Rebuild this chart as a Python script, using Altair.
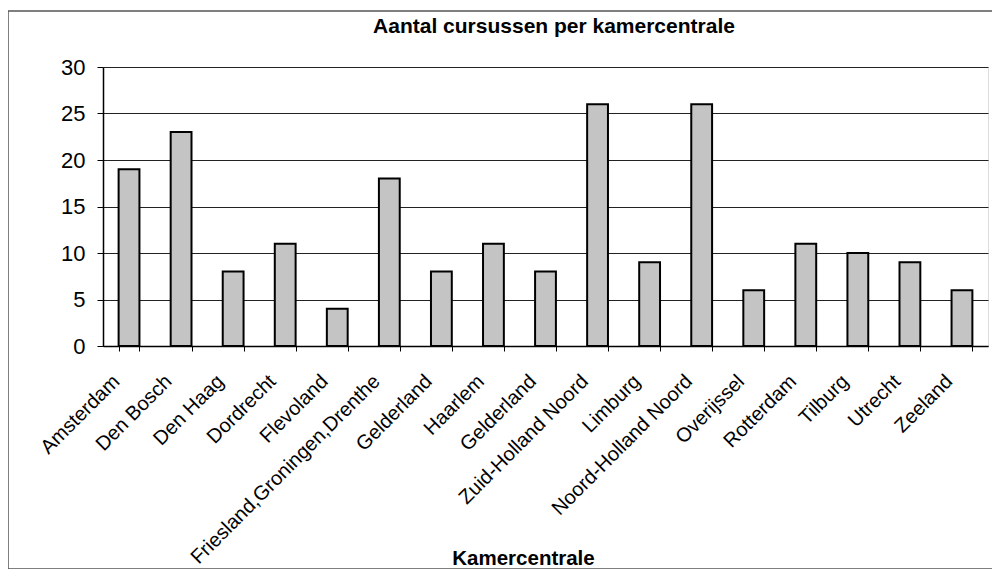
import altair as alt
import pandas as pd

title_text = "Aantal cursussen per kamercentrale"
categories = [
    "Amsterdam", "Den Bosch", "Den Haag", "Dordrecht", "Flevoland",
    "Friesland,Groningen,Drenthe", "Gelderland", "Haarlem", "Gelderland",
    "Zuid-Holland Noord", "Limburg", "Noord-Holland Noord", "Overijssel",
    "Rotterdam", "Tilburg", "Utrecht", "Zeeland",
]
values = [19, 23, 8, 11, 4, 18, 8, 11, 8, 26, 9, 26, 6, 11, 10, 9, 6]

keys = [f"{i:02d}|{c}" for i, c in enumerate(categories)]
df = pd.DataFrame({"key": keys, "value": values})

FONT = "Liberation Sans"
PW, PH = 885, 279

bars = alt.Chart(df).mark_bar(
    fill="#c4c4c4", stroke="black", strokeWidth=2
).encode(
    x=alt.X(
        "key:N", sort=None,
        scale=alt.Scale(paddingInner=0.6, paddingOuter=0.3),
        axis=alt.Axis(
            title="Kamercentrale",
            labelExpr="split(datum.value, '|')[1]",
            labelAngle=-45, labelAlign="right", labelBaseline="middle",
            labelFont=FONT, labelFontSize=20, labelColor="black",
            labelPadding=27, labelOffset=-13, labelLimit=500,
            tickBand="extent", tickSize=5, tickColor="black",
            domainColor="black", domainWidth=1.5,
            titleFont=FONT, titleFontSize=20.5, titleFontWeight="bold",
            titleColor="black", titleX=420, titleY=218,
            titleBaseline="alphabetic", titleAlign="center",
            grid=False, labelOverlap=False,
        ),
    ),
    y=alt.Y(
        "value:Q",
        scale=alt.Scale(domain=[0, 30], nice=False),
        axis=alt.Axis(
            title=None, values=[0, 5, 10, 15, 20, 25, 30],
            labelFont=FONT, labelFontSize=22, labelColor="black",
            labelPadding=12, tickSize=6, tickColor="black",
            domainColor="black", domainWidth=1.5,
            grid=True, gridColor="#222222", gridWidth=1,
        ),
    ),
)

one = pd.DataFrame({"a": [0]})

frame = alt.Chart(one).mark_rect(
    fill=None, stroke="#555555", strokeWidth=1.5
).encode(
    x=alt.value(-95), x2=alt.value(893),
    y=alt.value(-56), y2=alt.value(502),
)

title = alt.Chart(one).mark_text(
    font=FONT, fontSize=21, fontWeight="bold", color="black",
    align="center", baseline="alphabetic",
).encode(
    x=alt.value(451), y=alt.value(-34), text=alt.value(title_text),
)

chart = alt.layer(bars, frame, title).properties(
    width=PW, height=PH,
    autosize=alt.AutoSizeParams(type="none"),
    padding={"left": 95, "top": 59, "right": 4, "bottom": 223},
).configure_view(
    fill="#e0e0e0", stroke="#444444", strokeWidth=1.5
).configure(background="white")

chart.save("out.html", embed_options={"renderer": "svg", "actions": False})
